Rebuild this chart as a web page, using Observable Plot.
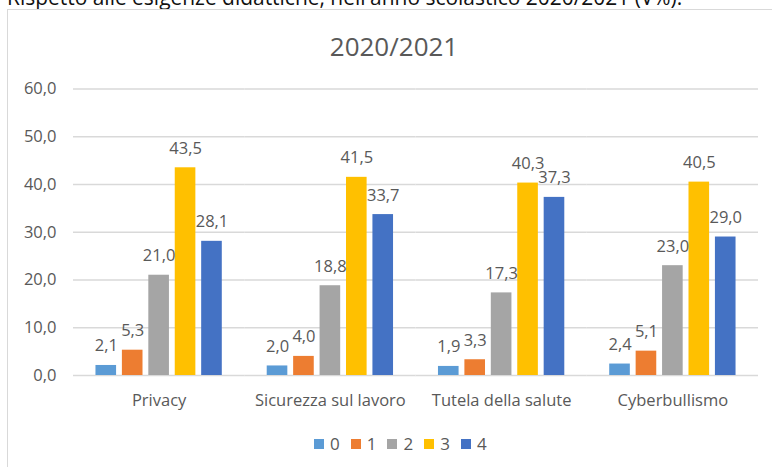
<!DOCTYPE html>
<html>
<head>
<meta charset="utf-8">
<script src="https://cdn.jsdelivr.net/npm/d3@7"></script>
<script src="https://cdn.jsdelivr.net/npm/@observablehq/plot@0.6"></script>
<style>
  html, body { margin: 0; padding: 0; background: #fff; }
  #wrap { position: relative; width: 772px; height: 467px; overflow: hidden; font-family: "Open Sans", sans-serif; }
  #heading { position: absolute; left: 7px; top: 0; white-space: nowrap; color: #111; font-size: 18px; line-height: 1; }
  #box { position: absolute; left: 7px; top: 9px; width: 800px; height: 520px; border: 1.5px solid #d9d9d9; box-sizing: border-box; }
  #title { position: absolute; left: 0; width: 788px; text-align: center; top: 0; color: #595959; font-size: 26px; line-height: 1; }
  #chart { position: absolute; left: 0; top: 0; }
  #legend { position: absolute; left: 314px; top: 427px; }
  #legend .lg-swatch { margin-right: 11px !important; font-size: 17px !important; color: #595959 !important; }
  #legend .lg-swatch > svg { margin-right: 6px !important; }
</style>
</head>
<body>
<div id="wrap">
  <div id="heading">Rispetto alle esigenze didattiche, nell'anno scolastico 2020/2021 (V%).</div>
  <div id="box"></div>
  <div id="title">2020/2021</div>
  <div id="chart"></div>
  <div id="legend"></div>
</div>
<script>
const categories = ["Privacy", "Sicurezza sul lavoro", "Tutela della salute", "Cyberbullismo"];
const series = ["0", "1", "2", "3", "4"];
const seriesColors = ["#5B9BD5", "#ED7D31", "#A5A5A5", "#FFC000", "#4472C4"];
const values0 = [2.1, 2.0, 1.9, 2.4];
const values1 = [5.3, 4.0, 3.3, 5.1];
const values2 = [21.0, 18.8, 17.3, 23.0];
const values3 = [43.5, 41.5, 40.3, 40.5];
const values4 = [28.1, 33.7, 37.3, 29.0];
const yTicks = [0, 10, 20, 30, 40, 50, 60];

const allValues = [values0, values1, values2, values3, values4];
const data = [];
categories.forEach((c, i) => {
  series.forEach((s, j) => {
    data.push({category: c, series: s, value: allValues[j][i]});
  });
});
const fmt = v => v.toFixed(1).replace(".", ",");

const plot = Plot.plot({
  width: 772,
  height: 467,
  marginLeft: 73,
  marginRight: 14,
  marginTop: 88.5,
  marginBottom: 92,
  style: {background: "transparent", color: "#595959", fontFamily: "'Open Sans', sans-serif", overflow: "visible"},
  fx: {domain: categories, padding: 0, round: false},
  x: {domain: series, paddingInner: 0.22, paddingOuter: 0.85, round: false, axis: null},
  y: {domain: [0, 60]},
  color: {domain: series, range: seriesColors},
  marks: [
    Plot.gridY(yTicks, {stroke: "#d9d9d9", strokeOpacity: 1, strokeWidth: 1.5}),
    Plot.barY(data, {fx: "category", x: "series", y: "value", fill: "series"}),
    Plot.text(data, {fx: "category", x: "series", y: "value", text: d => fmt(d.value), lineAnchor: "bottom", dy: -14, fontSize: 16.5, fill: "#595959"}),
    Plot.axisY({ticks: yTicks, tickFormat: fmt, tickSize: 0, tickPadding: 17, fontSize: 16.5, label: null}),
    Plot.axisFx({anchor: "bottom", tickSize: 0, tickPadding: 19, fontSize: 16.5, label: null})
  ]
});
document.getElementById("chart").appendChild(plot);

const legend = Plot.legend({
  color: {domain: series, range: seriesColors},
  legend: "swatches",
  swatchSize: 10,
  className: "lg",
  style: {fontFamily: "'Open Sans', sans-serif", fontSize: "17px", color: "#595959", margin: 0}
});
document.getElementById("legend").appendChild(legend);

// Title: baseline at y=55
const title = document.getElementById("title");
title.style.top = (55 - 26 * 0.85) + "px";
// Heading: width ~676px, baseline at y=5
const heading = document.getElementById("heading");
const w = heading.getBoundingClientRect().width;
const fs = 18 * 676 / w;
heading.style.fontSize = fs + "px";
heading.style.top = (5 - fs * 0.85) + "px";
</script>
</body>
</html>
